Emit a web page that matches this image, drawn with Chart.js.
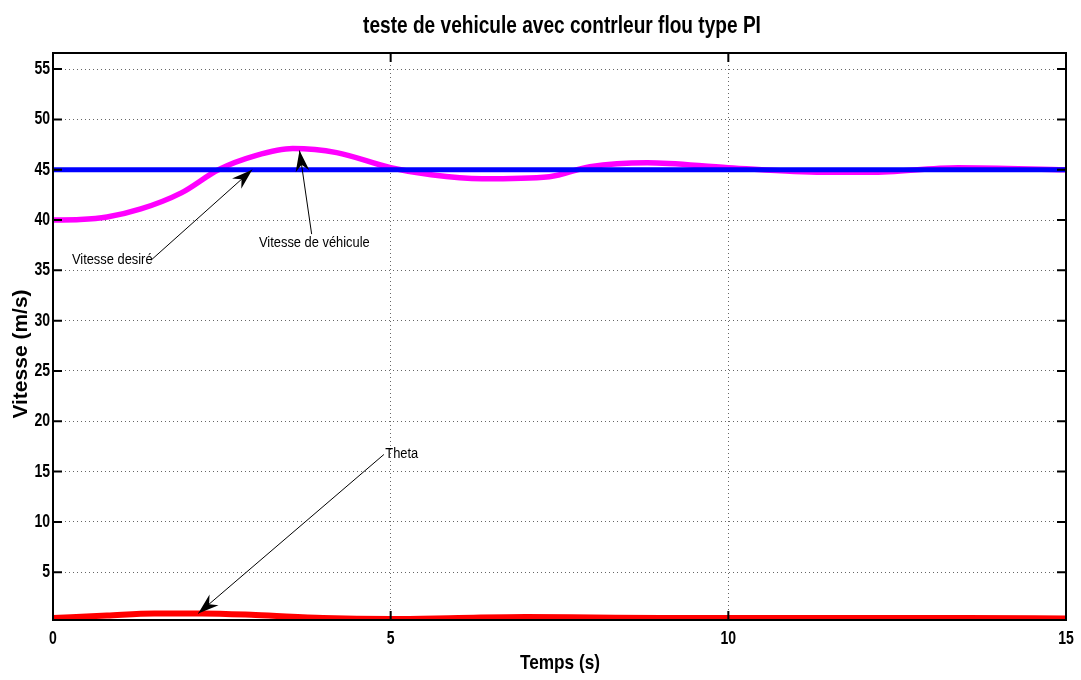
<!DOCTYPE html>
<html>
<head>
<meta charset="utf-8">
<script src="https://cdn.jsdelivr.net/npm/chart.js@4/dist/chart.umd.min.js"></script>
<style>
  html, body { margin: 0; padding: 0; background: #fff; }
  #wrap { width: 1081px; height: 680px; }
</style>
</head>
<body>
<div id="wrap"><canvas id="chart" width="1081" height="680"></canvas></div>
<script>
const FONT = '"Liberation Sans", Arial, Helvetica, sans-serif';

// time (s) and series
const desiredT = [0, 15];
const desiredV = [45, 45];

const vehT = [0, 0.4, 0.8, 1.3, 1.9, 2.45, 3.0, 3.55, 4.2, 5.0, 5.6, 6.35, 7.35, 7.95, 8.8, 10.0, 11.4, 12.1, 13.4, 15];
const vehV = [40, 40.05, 40.3, 41.1, 42.7, 45.0, 46.4, 47.1, 46.7, 45.2, 44.5, 44.1, 44.3, 45.3, 45.7, 45.2, 44.75, 44.75, 45.2, 45.0];

const thetaT = [0, 0.8, 1.5, 2.2, 3.0, 4.0, 5.0, 6.0, 7.0, 8.0, 9.0, 10.5, 12.0, 13.5, 15];
const thetaV = [0.45, 0.7, 0.9, 0.9, 0.75, 0.45, 0.35, 0.45, 0.55, 0.5, 0.45, 0.45, 0.45, 0.45, 0.4];

const xTicks = [0, 5, 10, 15];
const yTicks = [5, 10, 15, 20, 25, 30, 35, 40, 45, 50, 55];

const toPts = (t, v) => t.map((x, i) => ({ x: x, y: v[i] }));

// annotations: text anchor and arrow, in data units
const notes = [
  { text: 'Vitesse desiré', tx: 0.28, ty: 36.0, from: [1.45, 36.0], to: [2.95, 45.0] },
  { text: 'Vitesse de véhicule', tx: 3.05, ty: 37.7, from: [3.83, 38.6], to: [3.65, 46.9] },
  { text: 'Theta', tx: 4.92, ty: 16.7, from: [4.9, 16.7], to: [2.15, 0.9] }
];

// text squeezed horizontally, to imitate the narrow Helvetica of the original
function narrow(c, text, x, y, sx, align) {
  c.save();
  c.translate(x, y);
  c.scale(sx, 1);
  c.textAlign = align;
  c.fillText(text, 0, 0);
  c.restore();
}

const decor = {
  id: 'decor',
  afterDraw(chart) {
    const c = chart.ctx, a = chart.chartArea;
    const xs = chart.scales.x, ys = chart.scales.y;
    c.save();
    // inward tick marks
    c.strokeStyle = '#000';
    c.lineWidth = 2;
    c.beginPath();
    xTicks.forEach(v => {
      const px = xs.getPixelForValue(v);
      c.moveTo(px, a.bottom); c.lineTo(px, a.bottom - 9);
      c.moveTo(px, a.top); c.lineTo(px, a.top + 9);
    });
    yTicks.forEach(v => {
      const py = ys.getPixelForValue(v);
      c.moveTo(a.left, py); c.lineTo(a.left + 9, py);
      c.moveTo(a.right, py); c.lineTo(a.right - 9, py);
    });
    c.stroke();
    // frame
    c.strokeRect(a.left, a.top, a.right - a.left, a.bottom - a.top);

    c.fillStyle = '#000';
    c.textBaseline = 'middle';

    // tick labels
    c.font = 'bold 18px ' + FONT;
    xTicks.forEach(v => narrow(c, String(v), xs.getPixelForValue(v), a.bottom + 19, 0.78, 'center'));
    yTicks.forEach(v => narrow(c, String(v), a.left - 3, ys.getPixelForValue(v), 0.78, 'right'));

    // annotations
    c.font = '14px ' + FONT;
    notes.forEach(n => {
      narrow(c, n.text, xs.getPixelForValue(n.tx), ys.getPixelForValue(n.ty), 0.92, 'left');
      const x1 = xs.getPixelForValue(n.from[0]), y1 = ys.getPixelForValue(n.from[1]);
      const x2 = xs.getPixelForValue(n.to[0]), y2 = ys.getPixelForValue(n.to[1]);
      c.lineWidth = 1;
      c.beginPath(); c.moveTo(x1, y1); c.lineTo(x2, y2); c.stroke();
      const ang = Math.atan2(y2 - y1, x2 - x1), L = 22, w = 0.32;
      c.beginPath();
      c.moveTo(x2, y2);
      c.lineTo(x2 - L * Math.cos(ang - w), y2 - L * Math.sin(ang - w));
      c.lineTo(x2 - L * 0.65 * Math.cos(ang), y2 - L * 0.65 * Math.sin(ang));
      c.lineTo(x2 - L * Math.cos(ang + w), y2 - L * Math.sin(ang + w));
      c.closePath();
      c.fill();
    });

    // title and axis titles
    c.font = 'bold 23px ' + FONT;
    narrow(c, 'teste de vehicule avec contrleur flou type PI', 562, 27, 0.83, 'center');
    c.font = 'bold 21px ' + FONT;
    narrow(c, 'Temps (s)', 560, 663, 0.82, 'center');
    c.translate(21, 354);
    c.rotate(-Math.PI / 2);
    c.textAlign = 'center';
    c.fillText('Vitesse (m/s)', 0, 0);
    c.restore();
  }
};

new Chart(document.getElementById('chart'), {
  type: 'line',
  data: {
    datasets: [
      { label: 'Theta', data: toPts(thetaT, thetaV), borderColor: '#ff0000', borderWidth: 6, pointRadius: 0, tension: 0.4, cubicInterpolationMode: 'monotone' },
      { label: 'Vitesse desiré', data: toPts(desiredT, desiredV), borderColor: '#0000ff', borderWidth: 5, pointRadius: 0 },
      { label: 'Vitesse de véhicule', data: toPts(vehT, vehV), borderColor: '#ff00ff', borderWidth: 5.5, pointRadius: 0, tension: 0.4, cubicInterpolationMode: 'monotone' }
    ]
  },
  options: {
    responsive: false,
    animation: false,
    layout: { padding: { top: 53, right: 15, bottom: 0, left: 0 } },
    plugins: { legend: { display: false }, tooltip: { enabled: false } },
    scales: {
      x: {
        type: 'linear', min: 0, max: 15,
        afterBuildTicks: s => { s.ticks = xTicks.map(v => ({ value: v })); },
        afterFit: s => { s.height = 60; },
        grid: { color: '#666', drawTicks: false, lineWidth: 1 },
        border: { display: false, dash: [1, 3] },
        ticks: { display: false }
      },
      y: {
        type: 'linear', min: 0.25, max: 56.6,
        afterBuildTicks: s => { s.ticks = yTicks.map(v => ({ value: v })); },
        afterFit: s => { s.width = 53; },
        grid: { color: '#666', drawTicks: false, lineWidth: 1 },
        border: { display: false, dash: [1, 3] },
        ticks: { display: false }
      }
    }
  },
  plugins: [decor]
});
</script>
</body>
</html>
